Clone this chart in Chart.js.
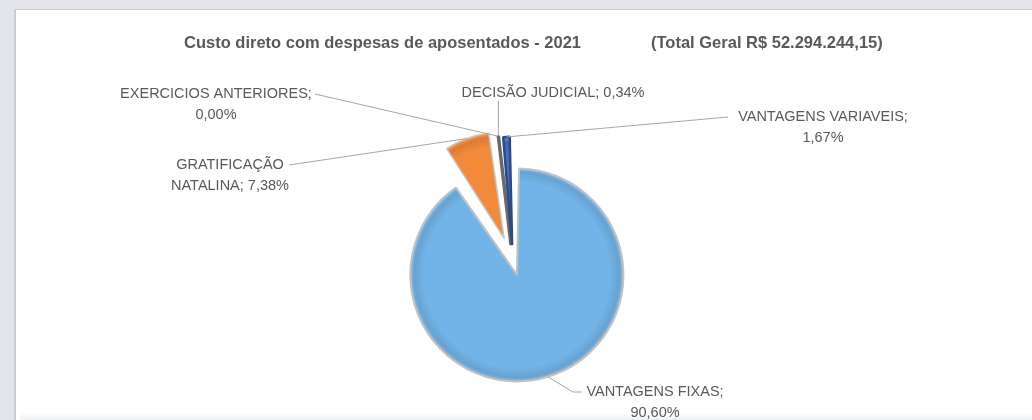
<!DOCTYPE html>
<html>
<head>
<meta charset="utf-8">
<script src="https://cdn.jsdelivr.net/npm/chart.js@4.4.1/dist/chart.umd.min.js"></script>
<style>
  html, body { margin: 0; padding: 0; }
  body { width: 1032px; height: 420px; background: #e4e5ea; position: relative; overflow: hidden; }
  #painel { position: absolute; left: 14px; top: 9px; right: 0; bottom: 0; background: #fff;
            border-left: 2px solid #cbcbcf; border-top: 1px solid #cbcbcf; }
  #rodape { position: absolute; left: 4px; right: 0; bottom: 0; height: 7px;
            background: linear-gradient(#ffffff, #eeeff1); }
  #grafico { position: absolute; left: 0; top: 0; }
</style>
</head>
<body>
<div id="painel"><div id="rodape"></div></div>
<canvas id="grafico" width="1032" height="420"></canvas>
<script>
// dados do gráfico
const categorias = ['VANTAGENS FIXAS', 'GRATIFICAÇÃO NATALINA', 'EXERCICIOS ANTERIORES', 'DECISÃO JUDICIAL', 'VANTAGENS VARIAVEIS'];
const percentuais = [90.60, 7.38, 0.00, 0.34, 1.67];
const titulo = 'Custo direto com despesas de aposentados - 2021';
const totalGeral = '(Total Geral R$ 52.294.244,15)';

// aparência das fatias
const cores = ['#72b4e7', '#f3893b', '#a3a3a3', '#a3a3a3', '#4372c4'];
const coresBorda = ['#c2c2c2', '#c8c8c8', '#7a7a7a', '#6a6a6a', '#2c4a86'];
const larguraBorda = [2, 1.5, 2, 3.5, 2.5];
const afastamento = [54, 100, 68, 68, 68];
const raioBase = 93;

// posição dos rótulos: centro do texto, 1a linha, palavras na 1a linha e trajeto da linha de chamada
const rotulosPos = [
  { x: 655, y: 392, quebra: 2, chamada: [[582, 392], [573, 392]] },
  { x: 230, y: 165, quebra: 1, chamada: [[289, 165]] },
  { x: 216, y: 94, quebra: 2, chamada: [[315, 94]] },
  { x: 553, y: 93, quebra: 4, chamada: 'vertical' },
  { x: 823, y: 117, quebra: 2, chamada: [[728, 117]] }
];

const fonteRotulo = '14.5px "Liberation Sans", Arial, sans-serif';
const fonteTitulo = 'bold 16.5px "Liberation Sans", Arial, sans-serif';
const corTexto = '#595959';

function formataPct(v) {
  return v.toFixed(2).replace('.', ',') + '%';
}

// mistura uma cor hex com preto (f<0) ou branco (f>0)
function tom(hex, f) {
  const n = parseInt(hex.slice(1), 16);
  const c = [n >> 16, (n >> 8) & 255, n & 255].map(v => Math.round(f < 0 ? v * (1 + f) : v + (255 - v) * f));
  return 'rgb(' + c.join(',') + ')';
}

// preenchimento com leve relevo na borda externa
function preenchimento(c) {
  const i = c.dataIndex;
  const area = c.chart.chartArea;
  if (!area || i === undefined) return cores[i] || cores[0];
  const cx = (area.left + area.right) / 2;
  const cy = (area.top + area.bottom) / 2;
  const g = c.chart.ctx.createRadialGradient(cx, cy, 0, cx, cy, 108);
  g.addColorStop(0, cores[i]);
  g.addColorStop(0.86, cores[i]);
  g.addColorStop(0.95, tom(cores[i], -0.1));
  g.addColorStop(1, tom(cores[i], 0.25));
  return g;
}

const rotulos = {
  id: 'rotulos',
  afterDatasetsDraw(chart) {
    const ctx = chart.ctx;
    const meta = chart.getDatasetMeta(0);
    ctx.save();

    // título em duas partes
    ctx.fillStyle = corTexto;
    ctx.font = fonteTitulo;
    ctx.textBaseline = 'middle';
    ctx.textAlign = 'left';
    ctx.fillText(titulo, 184, 43);
    ctx.fillText(totalGeral, 651, 43);

    ctx.font = fonteRotulo;
    ctx.textAlign = 'center';
    meta.data.forEach((arc, i) => {
      const pos = rotulosPos[i];
      const o = (arc.options.offset || 0) / 4;
      const meio = (arc.startAngle + arc.endAngle) / 2;
      const circ = arc.endAngle - arc.startAngle;
      const r = arc.outerRadius + o * (1 - Math.sin(Math.min(Math.PI, circ)));
      const ax = arc.x + Math.cos(meio) * (o + r);
      const ay = arc.y + Math.sin(meio) * (o + r);

      // linha de chamada
      ctx.strokeStyle = '#a6a6a6';
      ctx.lineWidth = 1;
      ctx.beginPath();
      if (pos.chamada === 'vertical') {
        ctx.moveTo(ax, pos.y + 8);
      } else {
        pos.chamada.forEach((p, k) => k === 0 ? ctx.moveTo(p[0], p[1]) : ctx.lineTo(p[0], p[1]));
      }
      ctx.lineTo(ax, ay);
      ctx.stroke();

      // texto
      const palavras = (categorias[i] + '; ' + formataPct(percentuais[i])).split(' ');
      const linhas = [palavras.slice(0, pos.quebra).join(' ')];
      if (palavras.length > pos.quebra) linhas.push(palavras.slice(pos.quebra).join(' '));
      ctx.fillStyle = corTexto;
      linhas.forEach((t, k) => ctx.fillText(t, pos.x, pos.y + k * 21));
    });
    ctx.restore();
  }
};

new Chart(document.getElementById('grafico'), {
  type: 'pie',
  data: {
    labels: categorias,
    datasets: [{
      data: percentuais,
      backgroundColor: preenchimento,
      borderColor: coresBorda,
      borderWidth: larguraBorda,
      offset: afastamento,
      radius: raioBase
    }]
  },
  options: {
    responsive: false,
    animation: false,
    events: [],
    layout: { padding: { left: 0, right: 6, top: 104, bottom: 0 } },
    plugins: {
      legend: { display: false },
      tooltip: { enabled: false },
      title: { display: false }
    }
  },
  plugins: [rotulos]
});
</script>
</body>
</html>
